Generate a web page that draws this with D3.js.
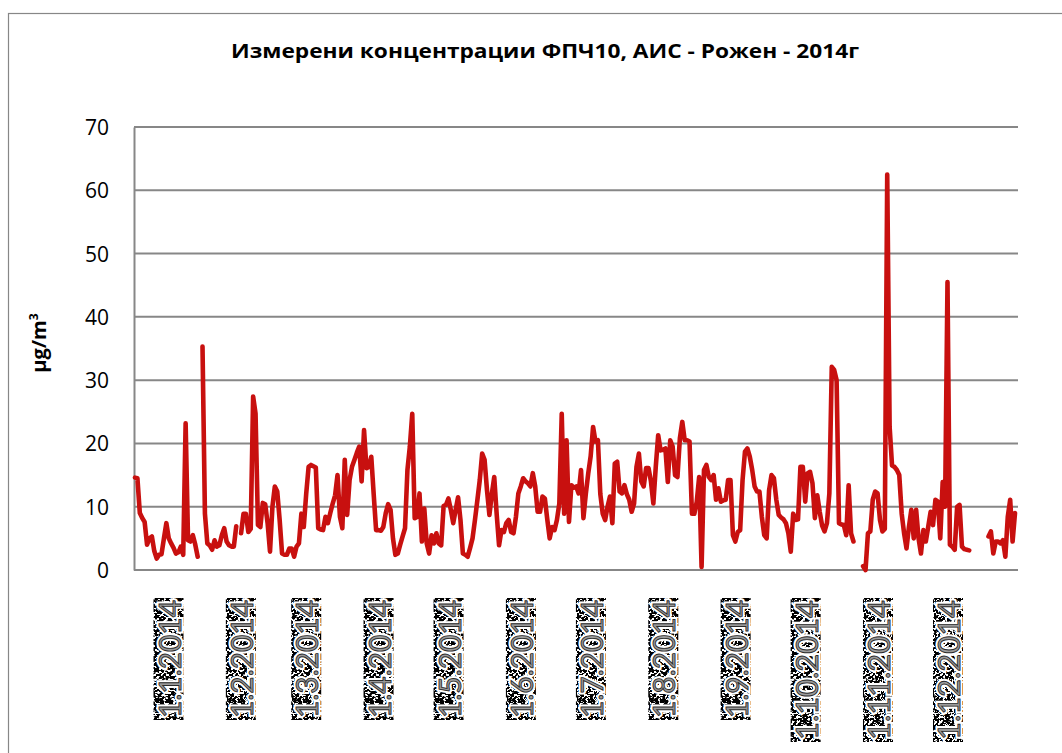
<!DOCTYPE html>
<html lang="bg">
<head>
<meta charset="UTF-8">
<title>ФПЧ10 - Рожен - 2014</title>
<script src="https://d3js.org/d3.v7.min.js"></script>
<style>
    body { margin: 0; background: #fff; }
    svg { display: block; }
    .title { font-family: "Open Sans", "Liberation Sans", sans-serif; font-weight: bold; font-size: 20px; }
    .tick_text { font-family: "Open Sans", "Liberation Sans", sans-serif; font-size: 21px; fill: #000; }
    .unit { font-family: "Open Sans", "Liberation Sans", sans-serif; font-weight: bold; font-size: 20px; }
    .month { font-family: Lato, "Liberation Sans", sans-serif; font-size: 30px; }
</style>
</head>
<body>
<svg width="1062" height="753"></svg>
<script>
    const chartTitle = "Измерени концентрации ФПЧ10, АИС - Рожен - 2014г";
    const yTicks = [0, 10, 20, 30, 40, 50, 60, 70];
    const monthLabels = ["1.1.2014", "1.2.2014", "1.3.2014", "1.4.2014", "1.5.2014", "1.6.2014",
        "1.7.2014", "1.8.2014", "1.9.2014", "1.10.2014", "1.11.2014", "1.12.2014"];
    const monthStarts = d3.range(0, 12).map(m => new Date(2014, m, 1));

    // daily PM10, µg/m3, 1 Jan .. 31 Dec 2014 (null = no measurement)
    const pm10 = [
        14.6, 14.5, 9.0, 8.2, 7.6, 4.0, 5.0, 5.3, 3.0, 1.8,
        2.4, 2.5, 5.0, 7.4, 5.0, 4.2, 3.5, 2.6, 2.8, 3.7,
        2.4, 23.2, 4.7, 4.5, 5.5, 4.0, 2.1, null, 35.3, 8.9,
        4.2, 3.9, 3.2, 4.7, 3.7, 3.9, 5.5, 6.6, 4.5, 3.9,
        3.7, 3.7, 6.9, null, 5.8, 8.9, 8.9, 6.0, 6.5, 27.4,
        24.7, 7.1, 6.8, 10.6, 10.4, 7.4, 2.9, 10.0, 13.2, 12.4,
        7.9, 2.6, 2.4, 2.4, 3.4, 3.4, 2.1, 3.7, 4.2, 8.9,
        6.8, 12.0, 16.3, 16.6, 16.4, 16.2, 6.6, 6.4, 6.3, 8.4,
        7.4, 9.0, 10.5, 11.8, 15.0, 8.4, 6.6, 17.4, 8.7, 14.2,
        16.3, 17.4, 18.5, 19.5, 14.0, 22.1, 16.1, 16.3, 17.9, 12.0,
        6.3, 6.3, 6.2, 6.8, 9.0, 10.4, 9.5, 5.0, 2.4, 2.6,
        4.0, 5.3, 6.6, 15.8, 19.5, 24.7, 8.2, 8.4, 12.1, 4.5,
        9.7, 4.2, 2.6, 5.5, 4.2, 5.8, 4.2, 3.9, 10.1, 10.3,
        11.3, 9.5, 7.4, 9.5, 11.5, 7.9, 2.6, 2.4, 2.1, 3.5,
        5.0, 7.9, 11.0, 14.2, 18.4, 17.4, 12.6, 8.7, 12.0, 14.7,
        8.9, 3.9, 6.3, 6.0, 7.4, 7.9, 6.0, 5.8, 8.4, 12.1,
        13.2, 14.5, 14.0, 13.7, 13.2, 15.3, 13.2, 9.2, 9.2, 11.6,
        11.3, 8.0, 5.0, 6.8, 6.3, 7.9, 10.5, 24.7, 8.9, 20.5,
        7.6, 13.4, 13.0, 13.2, 12.1, 15.8, 8.2, 12.1, 15.3, 18.0,
        22.6, 20.3, 20.5, 12.0, 8.9, 7.9, 10.0, 11.6, 7.4, 16.8,
        17.1, 12.4, 12.1, 13.4, 12.0, 11.1, 9.2, 10.5, 16.3, 18.4,
        14.0, 13.2, 16.1, 16.1, 14.0, 10.5, 16.3, 21.3, 18.9, 19.0,
        19.2, 13.9, 20.5, 19.5, 15.0, 14.7, 20.8, 23.4, 20.5, 20.5,
        20.3, 8.9, 8.9, 10.8, 14.7, 0.5, 15.8, 16.6, 14.7, 14.2,
        15.0, 11.1, 12.9, 10.8, 11.0, 11.1, 14.2, 14.2, 5.5, 4.5,
        6.0, 6.3, 14.2, 18.7, 19.2, 17.9, 15.8, 13.2, 12.4, 12.4,
        8.4, 5.5, 5.0, 12.6, 15.0, 14.5, 11.1, 8.7, 8.3, 8.0,
        7.4, 5.8, 2.9, 8.9, 7.9, 8.0, 16.3, 16.3, 10.8, 15.3,
        15.5, 13.7, 8.2, 11.8, 9.2, 7.0, 6.1, 7.4, 12.1, 32.1,
        31.6, 30.0, 7.4, 7.2, 7.1, 5.5, 13.4, 5.8, 4.5, null,
        null, null, 0.6, 0.0, 5.8, 6.1, 11.1, 12.4, 12.1, 7.9,
        6.1, 6.5, 62.5, 22.6, 16.5, 16.3, 15.8, 15.0, 8.9, 5.8,
        3.4, 6.8, 9.5, 5.0, 9.5, 5.0, 2.6, 6.3, 4.5, 6.8,
        9.2, 7.1, 11.1, 10.8, 5.0, 13.9, 10.0, 45.5, 4.0, 3.7,
        3.2, 10.0, 10.3, 3.7, 3.3, 3.2, 3.1, null, null, null,
        null, null, null, null, 5.3, 6.1, 2.6, 4.5, 4.5, 4.2,
        4.7, 2.1, 8.4, 11.1, 4.5, 9.0
    ];

    const svg = d3.select("svg");
    const gridColor = "#878787";

    // outer chart frame (runs off the window on right / bottom like the source)
    svg.append("rect")
        .attr("x", 8.5).attr("y", 13.5)
        .attr("width", 1100).attr("height", 800)
        .attr("fill", "none")
        .attr("stroke", gridColor)
        .attr("stroke-width", 1.2);

    const plot = { left: 134, right: 1018, top: 127, bottom: 570 };

    const y = d3.scaleLinear().domain([0, 70]).range([plot.bottom, plot.top]);
    const x = d3.scaleLinear().domain([0, pm10.length - 1]).range([135, 1015]);
    const xDate = d3.scaleTime()
        .domain([monthStarts[0], monthStarts[11]])
        .range([168.5, 948]);

    // title
    svg.append("text")
        .attr("class", "title")
        .attr("x", 545).attr("y", 58)
        .attr("text-anchor", "middle")
        .attr("textLength", 628)
        .attr("lengthAdjust", "spacingAndGlyphs")
        .text(chartTitle);

    // horizontal gridlines
    svg.append("g")
        .selectAll("line")
        .data(yTicks)
        .join("line")
        .attr("x1", plot.left).attr("x2", plot.right)
        .attr("y1", d => y(d)).attr("y2", d => y(d))
        .attr("stroke", gridColor)
        .attr("stroke-width", 2);

    // y axis (labels only, line drawn by hand to keep excel look)
    const yAxis = d3.axisLeft(y).tickValues(yTicks).tickSize(0).tickPadding(25);
    const gy = svg.append("g")
        .attr("transform", `translate(${plot.left},0)`)
        .call(yAxis);
    gy.select(".domain").attr("stroke", gridColor).attr("stroke-width", 2);
    gy.selectAll("text").attr("class", "tick_text").attr("font-family", null).attr("font-size", null)
        .attr("dy", "0.36em");

    // unit label
    const unit = svg.append("text")
        .attr("class", "unit")
        .attr("transform", "translate(46,343) rotate(-90)")
        .attr("text-anchor", "middle");
    unit.append("tspan").text("µg/m");
    unit.append("tspan").attr("font-size", "12px").attr("dy", "-8").text("3");

    // month labels, look of a scanned picture: dotted noise box + grey text
    const defs = svg.append("defs");
    const noise = defs.append("filter")
        .attr("id", "noise")
        .attr("x", 0).attr("y", 0).attr("width", 1).attr("height", 1);
    noise.append("feTurbulence")
        .attr("type", "fractalNoise")
        .attr("baseFrequency", 0.45)
        .attr("numOctaves", 2)
        .attr("seed", 7)
        .attr("result", "t");
    noise.append("feColorMatrix")
        .attr("in", "t")
        .attr("type", "matrix")
        .attr("values", "0 0 0 0 0  0 0 0 0 0  0 0 0 0 0  -22 0 0 0 12.4");

    const mLabel = svg.append("g")
        .selectAll("g")
        .data(monthLabels)
        .join("g")
        .attr("transform", (d, i) => `translate(${xDate(monthStarts[i])},598) rotate(-90)`);

    mLabel.append("rect")
        .attr("x", d => -(d.length > 8 ? 144 : 122))
        .attr("y", -15)
        .attr("width", d => d.length > 8 ? 144 : 122)
        .attr("height", 30)
        .attr("fill", "#fff")
        .attr("filter", "url(#noise)");

    mLabel.append("text")
        .attr("class", "month")
        .attr("text-anchor", "end")
        .attr("dominant-baseline", "central")
        .attr("x", -2)
        .attr("textLength", d => d.length > 8 ? 140 : 118)
        .attr("lengthAdjust", "spacingAndGlyphs")
        .attr("fill", "#fff")
        .attr("stroke", "#fff")
        .attr("stroke-width", 5)
        .text(d => d);

    mLabel.append("text")
        .attr("class", "month")
        .attr("text-anchor", "end")
        .attr("dominant-baseline", "central")
        .attr("x", -2)
        .attr("textLength", d => d.length > 8 ? 140 : 118)
        .attr("lengthAdjust", "spacingAndGlyphs")
        .attr("fill", "#9a9a9a")
        .attr("stroke", "#2a2a2a")
        .attr("stroke-width", 0.9)
        .text(d => d);

    // the series
    const line = d3.line()
        .defined(d => d !== null)
        .x((d, i) => x(i))
        .y(d => y(d));

    svg.append("path")
        .datum(pm10)
        .attr("d", line)
        .attr("fill", "none")
        .attr("stroke", "#c8100f")
        .attr("stroke-width", 4.6)
        .attr("stroke-linejoin", "round")
        .attr("stroke-linecap", "round");
</script>
</body>
</html>
